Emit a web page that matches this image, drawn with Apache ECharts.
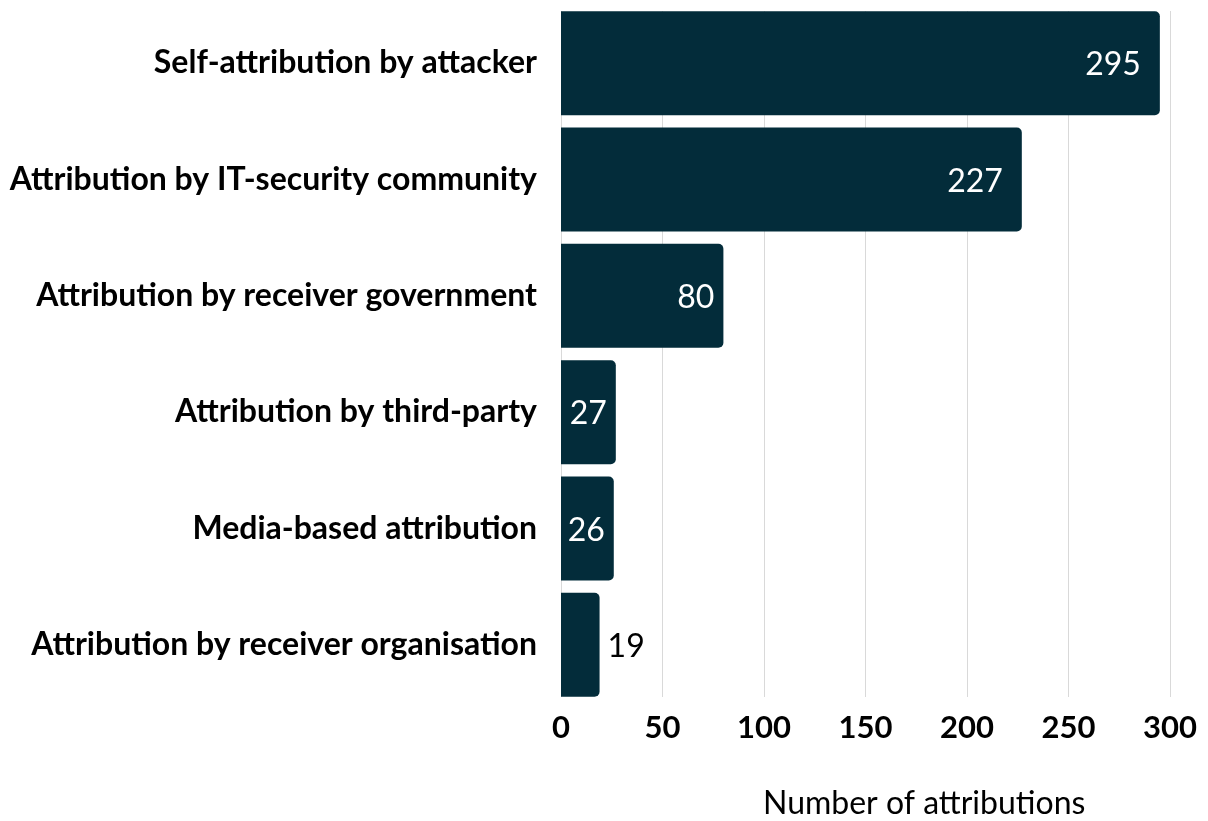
<!DOCTYPE html>
<html>
<head>
<meta charset="utf-8">
<script src="https://cdn.jsdelivr.net/npm/echarts@6/dist/echarts.min.js"></script>
<style>
html,body{margin:0;padding:0;background:#fff;}
#chart{width:1208px;height:821px;}
</style>
</head>
<body>
<div id="chart"></div>
<script>
const categories = [
  "Self-attribution by attacker",
  "Attribution by IT-security community",
  "Attribution by receiver government",
  "Attribution by third-party",
  "Media-based attribution",
  "Attribution by receiver organisation"
];
const values = [295, 227, 80, 27, 26, 19];
const xTicks = [0, 50, 100, 150, 200, 250, 300];
const axisTitle = "Number of attributions";

const barColor = "#032c3a";
const font = "Lato";

const barData = values.map(function (v) {
  const s = String(v);
  const inside = v >= 25;
  return {
    value: v,
    label: inside ? {
      position: "insideRight",
      distance: s.length >= 3 ? 19 : 9,
      color: "#ffffff"
    } : {
      position: "right",
      distance: 8,
      color: "#000000"
    }
  };
});

const chart = echarts.init(document.getElementById("chart"), null, {renderer: "canvas"});
chart.setOption({
  animation: false,
  backgroundColor: "#ffffff",
  textStyle: {fontFamily: font},
  grid: [
    {left: 561, right: 38, top: 5, bottom: 118, containLabel: false},
    {left: 561, right: 38, top: 11, bottom: 124, containLabel: false}
  ],
  xAxis: [
    {
      gridIndex: 0, type: "value", min: xTicks[0], max: xTicks[xTicks.length - 1], interval: 50,
      axisLine: {show: false}, axisTick: {show: false}, axisLabel: {show: false},
      splitLine: {show: false}
    },
    {
      gridIndex: 1, type: "value", min: xTicks[0], max: xTicks[xTicks.length - 1], interval: 50,
      axisLine: {show: false}, axisTick: {show: false},
      axisLabel: {
        show: true, margin: 15, fontFamily: font, fontWeight: "bold", fontSize: 31, color: "#000000",
        formatter: function (v) { return xTicks.indexOf(v) >= 0 ? String(v) : ""; }
      },
      splitLine: {show: true, lineStyle: {color: "#d9d9d9", width: 1}}
    }
  ],
  yAxis: [
    {
      gridIndex: 0, type: "category", data: categories, inverse: true,
      axisLine: {show: false}, axisTick: {show: false},
      axisLabel: {margin: 24, fontFamily: font, fontWeight: "bold", fontSize: 32, color: "#000000"}
    },
    {
      gridIndex: 1, type: "category", data: categories, inverse: true, show: false
    }
  ],
  title: {
    text: axisTitle,
    left: 763, top: 788,
    padding: 0,
    textStyle: {fontFamily: font, fontWeight: "normal", fontSize: 32, color: "#000000"}
  },
  series: [
    {
      type: "bar",
      xAxisIndex: 0, yAxisIndex: 0,
      data: barData,
      barCategoryGap: "10.6%",
      itemStyle: {color: barColor, borderRadius: [0, 5, 5, 0]},
      label: {show: true, fontFamily: font, fontSize: 32, fontWeight: "normal", offset: [0, 2]},
      z: 3
    }
  ]
});
</script>
</body>
</html>
